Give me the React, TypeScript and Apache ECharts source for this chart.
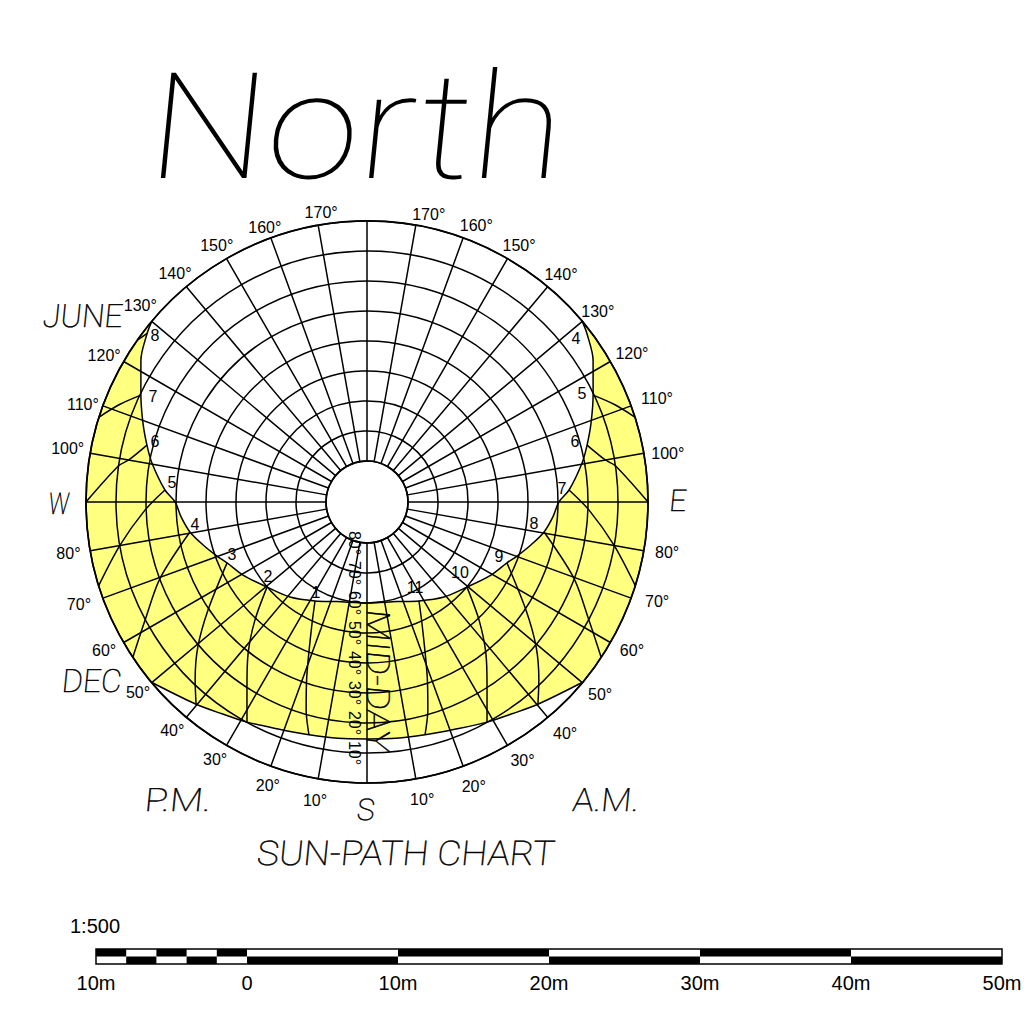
import React, { useEffect, useRef } from "react";
import * as echarts from "echarts";

// [altitude°, azimuth° from south, clockwise]
const juneCurve = [[0,130],[1.3,127.5],[4.7,122.1],[10.3,115.3],[14.5,109.4],[17.9,104.5],[20.8,100.3],[26.2,93.4],[29.7,90],[31.5,85.4],[33.8,80.4],[37.2,75.3],[40.5,70.2],[42.8,66.5],[45.7,59.5],[49.9,49.6],[52.9,39],[56.4,27.7],[59,16.7],[60,0],
  [59,343.3],[56.4,332.3],[52.9,321],[49.9,310.4],[45.7,300.5],[42.8,293.5],[40.5,289.8],[37.2,284.7],[33.8,279.6],[31.5,274.6],[29.7,270],[26.2,266.6],[20.8,259.7],[17.9,255.5],[14.5,250.6],[10.3,244.7],[4.7,237.9],[1.3,232.5],[0,230]];
const decCurve = [[0,50.1],[5.4,40.2],[8.1,34.4],[10.1,28.6],[12.4,21.4],[13.7,14],[14.3,7],[14.7,0],[14.3,353],[13.7,346],[12.4,338.6],[10.1,331.4],[8.1,325.6],[5.4,319.8],[0,309.9]];
const hourLines = [
  [[56.4,27.7],[48.1,23.9],[32,19],[21.4,16.3],[13.7,14]],
  [[49.9,49.6],[39.4,43.5],[29.6,38.2],[20.2,33],[10.1,28.6]],
  [[42.8,66.5],[29.6,55.8],[19.4,49.4],[11.2,44],[5.4,40.2]],
  [[33.8,80.4],[20.2,69.8],[9.9,62],[0.1,56.5]],
  [[26.2,93.4],[19.6,87.9],[10.1,80.1],[0,72.7]],
  [[17.9,104.5],[13,100],[10,98.3],[0,90]],
  [[10.3,115.3],[5,111.5],[0,107.6]],
  [[1.3,127.5],[0,125.2]],
  [[56.4,332.3],[48.1,336.1],[32,341],[21.4,343.7],[13.7,346]],
  [[49.9,310.4],[39.4,316.5],[29.6,321.8],[20.2,327],[10.1,331.4]],
  [[42.8,293.5],[29.6,304.2],[19.4,310.6],[11.2,316],[5.4,319.8]],
  [[33.8,279.6],[20.2,290.2],[9.9,298],[0.1,303.5]],
  [[26.2,266.6],[19.6,272.1],[10.1,279.9],[0,287.3]],
  [[17.9,255.5],[13,260],[10,261.7],[0,270]],
  [[10.3,244.7],[5,248.5],[0,252.4]],
];
const azimuthTicks = [10,20,30,40,50,60,70,80,100,110,120,130,140,150,160,170];
const hourLabels = ["8","7","6","5","4","3","2","1","4","5","6","7","8","9","10","11"];
const scaleBarSegments = [[-10,-8,1],[-8,-6,0],[-6,-4,1],[-4,-2,0],[-2,0,1],[0,10,0],[10,20,1],[20,30,0],[30,40,1],[40,50,0]];
const scaleTicks = [-10,0,10,20,30,40,50];

// layout only: where the azimuth labels sit, as [radial position, angle] on the polar scales
const westLabelPlace = [[-7.2,9.9],[-6.3,19.3],[-6.1,30.5],[-6.3,40.5],[-5.7,50.2],[-6.9,60.6],[-8.2,70.5],[-7.3,80.3],[-7.7,100.2],[-6.5,109],[-6.7,119.2],[-6.3,130.9],[-5.7,139.9],[-5.3,149.6],[-4,159.6],[-4,171]];
const eastLabelPlace = [[-7.3,349.5],[-7.5,339.4],[-7,329],[-8,319.5],[-7.2,309.6],[-7.5,299.2],[-8.6,289],[-7.8,279.6],[-7.9,260.9],[-9,250.3],[-7.5,240.8],[-6.2,230.4],[-5.9,220.5],[-5.6,210.7],[-5.3,201.6],[-4.5,192.1]];
const hourLabelPos = [[155,335],[153,396],[155,441],[172,482],[195,524],[232,554],[268,576],[316,592],[576,338],[582,393],[575,441],[562,488],[534,523],[499,556],[460,572],[415,587]];

const CAD = "Roboto";
const cad = (text: string, x: number, y: number, size: number, scaleX = 1, rotation = 0) => ({
  type: "text", x, y, scaleX, rotation, skewX: -0.1, silent: true, z: 20,
  style: { text, fill: "#000", stroke: "#000", lineWidth: 0.5, fontFamily: CAD, fontWeight: 100, fontSize: size, textAlign: "center", textVerticalAlign: "middle" },
});

export default function App() {
  const ref = useRef<HTMLDivElement>(null);
  useEffect(() => {
    const chart = echarts.init(ref.current!, null, { renderer: "svg" });
    const arc: number[][] = [];
    for (let a = 130; a >= 50; a -= 5) arc.push([0, a]);
    const arcE: number[][] = [];
    for (let a = 310; a >= 230; a -= 5) arcE.push([0, a]);
    const fillPts = [...arc, ...decCurve, ...arcE, ...juneCurve.slice().reverse()];
    const line = (data: number[][], width = 1.5) => ({
      type: "line", coordinateSystem: "polar", data, symbol: "none", smooth: 0.3, clip: false, silent: true, z: 8,
      lineStyle: { color: "#000", width },
    });
    const azLabels = [
      ...azimuthTicks.map((a, i) => ({ name: `${a}°`, value: westLabelPlace[i] })),
      ...azimuthTicks.map((a, i) => ({ name: `${a}°`, value: eastLabelPlace[i] })),
    ];
    chart.setOption({
      animation: false,
      backgroundColor: "#fff",
      polar: { center: [367, 502], radius: [41, 281] },
      angleAxis: {
        type: "value", min: 0, max: 360, interval: 10, startAngle: -90, clockwise: true, z: 5,
        axisLine: { lineStyle: { color: "#000", width: 1.7 } }, axisTick: { show: false },
        splitLine: { show: true, lineStyle: { color: "#000", width: 1.5 } },
        axisLabel: { show: false },
      },
      radiusAxis: {
        type: "value", min: 0, max: 80, interval: 10, inverse: true, z: 5,
        axisLine: { show: false }, axisTick: { show: false },
        splitLine: { show: true, lineStyle: { color: "#000", width: 1.5 } },
        axisLabel: { rotate: -90, margin: -13, fontFamily: "Liberation Sans", fontSize: 16, color: "#000", align: "center", verticalAlign: "middle",
          formatter: (v: number) => (v === 0 ? "" : `${v}°`) },
      },
      grid: { left: 96, width: 906, top: 949, height: 15, show: false },
      xAxis: { type: "value", min: -10, max: 50, interval: 10, axisLine: { show: false }, axisTick: { show: false }, splitLine: { show: false },
        axisLabel: { margin: 9, fontFamily: "Liberation Sans", fontSize: 20, color: "#000", customValues: scaleTicks, formatter: (v: number) => (v === 0 ? "0" : `${Math.abs(v)}m`) } },
      yAxis: { type: "value", min: 0, max: 2, show: false },
      series: [
        {
          type: "custom", coordinateSystem: "polar", z: 1, silent: true, data: fillPts,
          renderItem: (p: any, api: any) => p.dataIndex !== 0 ? null : ({
            type: "polygon",
            shape: { points: fillPts.map((d) => api.coord(d).slice(0, 2)) },
            style: { fill: "#ffff80", stroke: "none" },
          }),
        },
        line(juneCurve), line(decCurve),
        ...hourLines.map((h) => line(h)),
        line([[80,0],[93.667,0],[80,180]]),
        line([[80,90],[93.667,90],[80,270]]),
        {
          type: "scatter", coordinateSystem: "polar", data: azLabels, symbolSize: 1, silent: true, clip: false, z: 9,
          itemStyle: { color: "rgba(0,0,0,0)", opacity: 1 },
          label: { show: true, position: "inside", formatter: "{b}", align: "center", verticalAlign: "middle", fontFamily: "Liberation Sans", fontSize: 16, color: "#000", opacity: 1 },
          labelLayout: { hideOverlap: false },
        },
        {
          type: "custom", coordinateSystem: "cartesian2d", silent: true, z: 3,
          data: scaleBarSegments,
          renderItem: (_p: any, api: any) => {
            const a = api.coord([api.value(0), api.value(2) + 1]);
            const b = api.coord([api.value(1), api.value(2)]);
            return { type: "rect", shape: { x: a[0], y: a[1], width: b[0] - a[0], height: b[1] - a[1] }, style: { fill: "#000" } };
          },
        },
        {
          type: "custom", coordinateSystem: "cartesian2d", silent: true, z: 2,
          data: [[-10, 50]],
          renderItem: (_p: any, api: any) => {
            const a = api.coord([api.value(0), 2]);
            const b = api.coord([api.value(1), 0]);
            return { type: "rect", shape: { x: a[0], y: a[1], width: b[0] - a[0], height: b[1] - a[1] }, style: { fill: "#fff", stroke: "#000", lineWidth: 1.5 } };
          },
        },
      ],
      graphic: { elements: [
        { type: "text", x: 357, y: 128, scaleX: 1.13, skewX: -0.1, silent: true, z: 20,
          style: { text: "North", fill: "#000", stroke: "#fff", lineWidth: 3.6, fontFamily: CAD, fontWeight: 100, fontSize: 148, textAlign: "center", textVerticalAlign: "middle" } },
        cad("JUNE", 83, 316, 32),
        cad("DEC", 92, 681, 32),
        cad("W", 59, 503, 30, 0.75),
        cad("E", 678, 501, 30),
        cad("S", 366, 810, 30),
        cad("P.M.", 178, 800, 32, 1.2),
        cad("A.M.", 606, 800, 32, 1.1),
        cad("SUN-PATH CHART", 406, 854, 34, 1.09),
        cad("MID-DAY", 378, 681, 32, 1.15, -Math.PI / 2),
        ...hourLabels.map((t, i) => ({ type: "text", x: hourLabelPos[i][0], y: hourLabelPos[i][1], silent: true, z: 20,
          style: { text: t, fill: "#000", fontFamily: "Liberation Sans", fontSize: 16, textAlign: "center", textVerticalAlign: "middle" } })),
        { type: "text", x: 70, y: 926, silent: true, z: 20, style: { text: "1:500", fill: "#000", fontFamily: "Liberation Sans", fontSize: 20, textAlign: "left", textVerticalAlign: "middle" } },
      ] },
    });
    return () => chart.dispose();
  }, []);
  return <div ref={ref} style={{ position: "fixed", left: 0, top: 0, width: 1034, height: 1018 }} />;
}
